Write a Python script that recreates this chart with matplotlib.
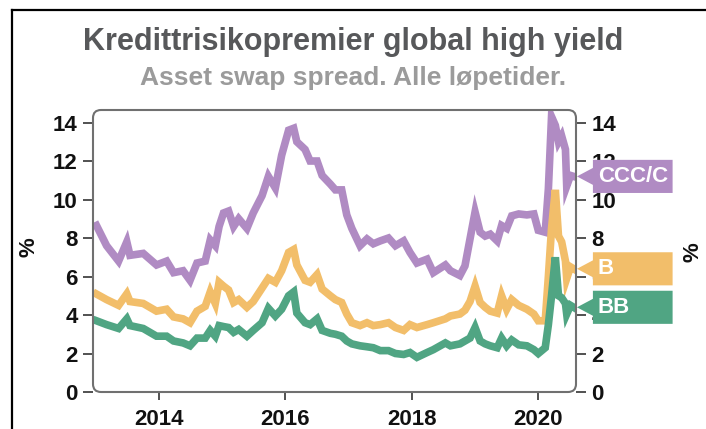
import matplotlib
matplotlib.use("Agg")
import matplotlib.pyplot as plt
from matplotlib.patches import FancyBboxPatch, Polygon
from matplotlib.lines import Line2D
import matplotlib.transforms as mtransforms

plt.rcParams['font.family'] = ['Liberation Sans', 'DejaVu Sans']

# Dates as decimal years
years = [2013.01, 2013.17, 2013.36, 2013.49, 2013.54, 2013.75, 2013.96, 2014.12, 2014.23,
         2014.38, 2014.49, 2014.60, 2014.73, 2014.81, 2014.89,
         2014.95, 2015.02, 2015.10, 2015.18, 2015.26, 2015.39, 2015.49, 2015.63, 2015.73,
         2015.84, 2015.94, 2016.05, 2016.13, 2016.18, 2016.31, 2016.39, 2016.50, 2016.58,
         2016.71,
         2016.79, 2016.89, 2016.97, 2017.05, 2017.18, 2017.29, 2017.39, 2017.50, 2017.63,
         2017.74, 2017.87, 2017.97, 2018.08, 2018.24, 2018.34, 2018.53,
         2018.61, 2018.76, 2018.84, 2018.92, 2019.00, 2019.08, 2019.16, 2019.24, 2019.35,
         2019.42, 2019.50, 2019.58, 2019.69, 2019.82, 2019.93, 2020.00, 2020.11, 2020.16,
         2020.21, 2020.27, 2020.32, 2020.37, 2020.43, 2020.45, 2020.51, 2020.56]

ccc = [8.65, 7.6, 6.8, 7.8, 7.1, 7.2, 6.6, 6.8, 6.2, 6.3, 5.8, 6.7, 6.8, 7.9, 7.6,
       8.6, 9.3, 9.4, 8.6, 9.0, 8.5, 9.3, 10.2, 11.2, 10.6, 12.3, 13.6, 13.7, 13.0,
       12.6, 12.0, 12.0, 11.25, 10.8,
       10.5, 10.5, 9.2, 8.5, 7.6, 7.95, 7.7, 7.85, 8.0, 7.6, 7.85, 7.25, 6.7, 6.9, 6.2, 6.6,
       6.3, 6.05, 6.55, 7.95, 9.35, 8.3, 8.1, 8.2, 7.85, 8.65, 8.5, 9.15, 9.25, 9.2, 9.25,
       8.4, 8.3, 10.55, 14.3, 13.85, 13.0, 13.3, 12.6, 10.7, 11.25, 11.2]

b = [5.09, 4.8, 4.5, 5.1, 4.7, 4.6, 4.2, 4.3, 3.9, 3.8, 3.6, 4.2, 4.45, 5.2, 4.6,
     5.7, 5.5, 5.3, 4.65, 4.8, 4.4, 4.7, 5.4, 5.9, 5.7, 6.3, 7.25, 7.4, 6.6,
     5.8, 5.7, 6.1, 5.35, 5.0,
     4.8, 4.65, 4.05, 3.6, 3.45, 3.6, 3.45, 3.5, 3.6, 3.35, 3.2, 3.5, 3.35, 3.5, 3.6, 3.8,
     3.95, 4.05, 4.25, 4.7, 5.5, 4.65, 4.4, 4.2, 4.1, 5.0, 4.3, 4.8, 4.5, 4.3, 4.05,
     3.7, 3.7, 6.0, 8.5, 10.5, 8.1, 7.8, 6.8, 5.9, 6.5, 6.4]

bb = [3.7, 3.5, 3.3, 3.8, 3.45, 3.3, 2.9, 2.9, 2.65, 2.55, 2.4, 2.8, 2.8, 3.2, 2.9,
      3.45, 3.4, 3.35, 3.1, 3.25, 2.9, 3.2, 3.6, 4.35, 3.95, 4.3, 5.0, 5.2, 4.1,
      3.6, 3.5, 3.8, 3.2, 3.05,
      3.0, 2.9, 2.65, 2.5, 2.4, 2.35, 2.3, 2.15, 2.15, 2.0, 1.95, 2.05, 1.8, 2.05, 2.2, 2.55,
      2.4, 2.5, 2.65, 2.8, 3.35, 2.65, 2.5, 2.4, 2.3, 2.8, 2.4, 2.7, 2.45, 2.4, 2.2,
      2.0, 2.3, 3.5, 5.0, 7.0, 5.0, 4.9, 4.6, 4.05, 4.5, 4.4]

series_names = ['CCC/C', 'B', 'BB']
series_colors = ['#B08BC3', '#F2BE6A', '#50A583']

fig = plt.figure(figsize=(7.06, 4.29), dpi=100)
ax = fig.add_axes([93 / 706, 1 - 392 / 429, 483 / 706, 282 / 429])

for vals, col in zip([ccc, b, bb], series_colors):
    ax.plot(years, vals, color=col, linewidth=5.5, solid_joinstyle='miter')

ax.set_xlim(2012.955, 2020.597)
ax.set_ylim(0, 14.65)
ax.set_yticks(range(0, 15, 2))
ax.set_xticks([2014, 2016, 2018, 2020])

for s in ax.spines.values():
    s.set_visible(False)
frame = FancyBboxPatch((0, 0), 1, 1, boxstyle="round,pad=0,rounding_size=0.0166",
                       mutation_aspect=1.71, transform=ax.transAxes, facecolor='none',
                       edgecolor='#707070', linewidth=1.5, clip_on=False, zorder=3)
ax.add_patch(frame)

ax.tick_params(axis='y', left=True, right=True, labelleft=True, labelright=True,
               direction='out', length=7, width=1.2, color='#333333',
               labelsize=16, pad=4)
ax.tick_params(axis='x', direction='out', length=6, width=1.2, color='#333333',
               labelsize=16, pad=6)
for t in ax.yaxis.get_major_ticks() + ax.xaxis.get_major_ticks():
    for lbl in (t.label1, t.label2):
        lbl.set_fontweight('bold')
        lbl.set_color('#111111')

fig.text(29 / 706, 1 - 247 / 429, '%', rotation=90, ha='center', va='center',
         fontsize=16, fontweight='bold', color='#111111')
fig.text(693 / 706, 1 - 252 / 429, '%', rotation=90, ha='center', va='center',
         fontsize=16, fontweight='bold', color='#111111')

# end labels with arrows pointing at the last value
blend = mtransforms.blended_transform_factory(ax.transAxes, ax.transData)
for name, vals, col in zip(series_names, [ccc, b, bb], series_colors):
    v = vals[-1]
    pts = [(1.002, v), (1.035, v + 0.44), (1.035, v + 0.86), (1.2, v + 0.86),
           (1.2, v - 0.86), (1.035, v - 0.86), (1.035, v - 0.44)]
    ax.add_patch(Polygon(pts, closed=True, transform=blend, facecolor=col,
                         edgecolor='none', clip_on=False, zorder=5))
    ax.text(1.045, v, name, transform=blend, color='white', fontsize=16,
            fontweight='bold', va='center', ha='left', zorder=6)

fig.text(0.5, 1 - 42 / 429, 'Kredittrisikopremier global high yield', ha='center',
         va='center', fontsize=22, fontweight='bold', color='#57585a')
fig.text(0.5, 1 - 78 / 429, 'Asset swap spread. Alle løpetider.', ha='center',
         va='center', fontsize=19, fontweight='bold', color='#9b9b9b')

# outer frame (cropped at right and bottom)
fig.add_artist(Line2D([12 / 706, 12 / 706], [0, 1 - 10 / 429], color='black',
                      linewidth=1.6, transform=fig.transFigure))
fig.add_artist(Line2D([12 / 706, 1], [1 - 10 / 429, 1 - 10 / 429], color='black',
                      linewidth=1.6, transform=fig.transFigure))

fig.savefig('out.png', dpi=100)
